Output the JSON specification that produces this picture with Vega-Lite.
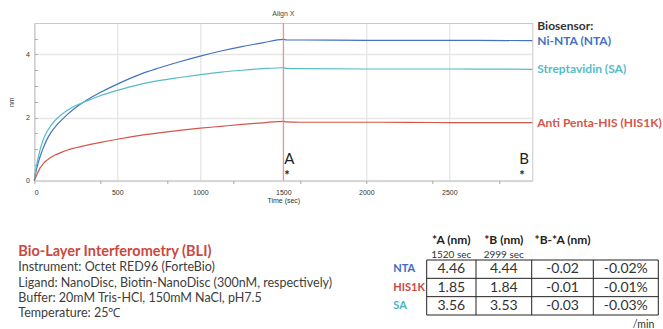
{
  "$schema": "https://vega.github.io/schema/vega-lite/v6.json",
  "width": 498,
  "height": 157.5,
  "autosize": "none",
  "padding": {"left": 34.3, "top": 23, "right": 130.7, "bottom": 148.5},
  "background": "white",
  "config": {
    "view": {"stroke": "#c8c8c8"},
    "axis": {"labelFont": "Liberation Sans", "titleFont": "Liberation Sans", "labelFontSize": 7, "titleFontSize": 7, "labelColor": "#333333", "titleColor": "#333333", "titleFontWeight": "normal"}
  },
  "datasets": {
    "curves": [
      {"series": "Ni-NTA (NTA)", "t": 0, "nm": 0},
      {"series": "Ni-NTA (NTA)", "t": 10, "nm": 0.28},
      {"series": "Ni-NTA (NTA)", "t": 20, "nm": 0.5},
      {"series": "Ni-NTA (NTA)", "t": 35, "nm": 0.76},
      {"series": "Ni-NTA (NTA)", "t": 50, "nm": 0.98},
      {"series": "Ni-NTA (NTA)", "t": 75, "nm": 1.29},
      {"series": "Ni-NTA (NTA)", "t": 100, "nm": 1.52},
      {"series": "Ni-NTA (NTA)", "t": 135, "nm": 1.76},
      {"series": "Ni-NTA (NTA)", "t": 170, "nm": 1.95},
      {"series": "Ni-NTA (NTA)", "t": 200, "nm": 2.1},
      {"series": "Ni-NTA (NTA)", "t": 250, "nm": 2.32},
      {"series": "Ni-NTA (NTA)", "t": 300, "nm": 2.5},
      {"series": "Ni-NTA (NTA)", "t": 400, "nm": 2.8},
      {"series": "Ni-NTA (NTA)", "t": 500, "nm": 3.06},
      {"series": "Ni-NTA (NTA)", "t": 637, "nm": 3.37},
      {"series": "Ni-NTA (NTA)", "t": 750, "nm": 3.57},
      {"series": "Ni-NTA (NTA)", "t": 875, "nm": 3.77},
      {"series": "Ni-NTA (NTA)", "t": 1000, "nm": 3.95},
      {"series": "Ni-NTA (NTA)", "t": 1125, "nm": 4.11},
      {"series": "Ni-NTA (NTA)", "t": 1250, "nm": 4.25},
      {"series": "Ni-NTA (NTA)", "t": 1375, "nm": 4.37},
      {"series": "Ni-NTA (NTA)", "t": 1500, "nm": 4.48},
      {"series": "Ni-NTA (NTA)", "t": 1520, "nm": 4.46},
      {"series": "Ni-NTA (NTA)", "t": 1600, "nm": 4.46},
      {"series": "Ni-NTA (NTA)", "t": 2000, "nm": 4.45},
      {"series": "Ni-NTA (NTA)", "t": 2500, "nm": 4.45},
      {"series": "Ni-NTA (NTA)", "t": 3000, "nm": 4.44},
      {"series": "Streptavidin (SA)", "t": 0, "nm": 0},
      {"series": "Streptavidin (SA)", "t": 10, "nm": 0.38},
      {"series": "Streptavidin (SA)", "t": 20, "nm": 0.64},
      {"series": "Streptavidin (SA)", "t": 35, "nm": 0.98},
      {"series": "Streptavidin (SA)", "t": 50, "nm": 1.24},
      {"series": "Streptavidin (SA)", "t": 75, "nm": 1.54},
      {"series": "Streptavidin (SA)", "t": 100, "nm": 1.74},
      {"series": "Streptavidin (SA)", "t": 135, "nm": 1.96},
      {"series": "Streptavidin (SA)", "t": 170, "nm": 2.12},
      {"series": "Streptavidin (SA)", "t": 200, "nm": 2.23},
      {"series": "Streptavidin (SA)", "t": 250, "nm": 2.38},
      {"series": "Streptavidin (SA)", "t": 300, "nm": 2.49},
      {"series": "Streptavidin (SA)", "t": 400, "nm": 2.7},
      {"series": "Streptavidin (SA)", "t": 500, "nm": 2.86},
      {"series": "Streptavidin (SA)", "t": 637, "nm": 3.05},
      {"series": "Streptavidin (SA)", "t": 750, "nm": 3.17},
      {"series": "Streptavidin (SA)", "t": 875, "nm": 3.27},
      {"series": "Streptavidin (SA)", "t": 1000, "nm": 3.36},
      {"series": "Streptavidin (SA)", "t": 1125, "nm": 3.44},
      {"series": "Streptavidin (SA)", "t": 1250, "nm": 3.5},
      {"series": "Streptavidin (SA)", "t": 1375, "nm": 3.55},
      {"series": "Streptavidin (SA)", "t": 1500, "nm": 3.58},
      {"series": "Streptavidin (SA)", "t": 1520, "nm": 3.56},
      {"series": "Streptavidin (SA)", "t": 1600, "nm": 3.55},
      {"series": "Streptavidin (SA)", "t": 2000, "nm": 3.54},
      {"series": "Streptavidin (SA)", "t": 2500, "nm": 3.54},
      {"series": "Streptavidin (SA)", "t": 3000, "nm": 3.53},
      {"series": "Anti Penta-HIS (HIS1K)", "t": 0, "nm": 0},
      {"series": "Anti Penta-HIS (HIS1K)", "t": 10, "nm": 0.12},
      {"series": "Anti Penta-HIS (HIS1K)", "t": 20, "nm": 0.24},
      {"series": "Anti Penta-HIS (HIS1K)", "t": 35, "nm": 0.4},
      {"series": "Anti Penta-HIS (HIS1K)", "t": 50, "nm": 0.51},
      {"series": "Anti Penta-HIS (HIS1K)", "t": 75, "nm": 0.64},
      {"series": "Anti Penta-HIS (HIS1K)", "t": 100, "nm": 0.74},
      {"series": "Anti Penta-HIS (HIS1K)", "t": 135, "nm": 0.83},
      {"series": "Anti Penta-HIS (HIS1K)", "t": 170, "nm": 0.91},
      {"series": "Anti Penta-HIS (HIS1K)", "t": 200, "nm": 0.97},
      {"series": "Anti Penta-HIS (HIS1K)", "t": 250, "nm": 1.04},
      {"series": "Anti Penta-HIS (HIS1K)", "t": 300, "nm": 1.1},
      {"series": "Anti Penta-HIS (HIS1K)", "t": 400, "nm": 1.21},
      {"series": "Anti Penta-HIS (HIS1K)", "t": 500, "nm": 1.31},
      {"series": "Anti Penta-HIS (HIS1K)", "t": 637, "nm": 1.43},
      {"series": "Anti Penta-HIS (HIS1K)", "t": 750, "nm": 1.51},
      {"series": "Anti Penta-HIS (HIS1K)", "t": 875, "nm": 1.59},
      {"series": "Anti Penta-HIS (HIS1K)", "t": 1000, "nm": 1.66},
      {"series": "Anti Penta-HIS (HIS1K)", "t": 1125, "nm": 1.72},
      {"series": "Anti Penta-HIS (HIS1K)", "t": 1250, "nm": 1.78},
      {"series": "Anti Penta-HIS (HIS1K)", "t": 1375, "nm": 1.83},
      {"series": "Anti Penta-HIS (HIS1K)", "t": 1500, "nm": 1.88},
      {"series": "Anti Penta-HIS (HIS1K)", "t": 1520, "nm": 1.86},
      {"series": "Anti Penta-HIS (HIS1K)", "t": 1600, "nm": 1.85},
      {"series": "Anti Penta-HIS (HIS1K)", "t": 2000, "nm": 1.85},
      {"series": "Anti Penta-HIS (HIS1K)", "t": 2500, "nm": 1.84},
      {"series": "Anti Penta-HIS (HIS1K)", "t": 3000, "nm": 1.84}
    ],
    "info": [
      {"line": 0, "text": "Bio-Layer Interferometry (BLI)"},
      {"line": 1, "text": "Instrument: Octet RED96 (ForteBio)"},
      {"line": 2, "text": "Ligand: NanoDisc, Biotin-NanoDisc (300nM, respectively)"},
      {"line": 3, "text": "Buffer: 20mM Tris-HCl, 150mM NaCl, pH7.5"},
      {"line": 4, "text": "Temperature: 25℃"}
    ],
    "tcols": [{"c": 0}, {"c": 1}, {"c": 2}, {"c": 3}, {"c": 4}],
    "trows": [{"r": 0}, {"r": 1}, {"r": 2}, {"r": 3}],
    "table": [
      {"kind": "head", "c": 0, "r": -1.57, "text": "*A (nm)"},
      {"kind": "head", "c": 1, "r": -1.57, "text": "*B (nm)"},
      {"kind": "head", "c": 2, "r": -1.57, "text": "*B-*A (nm)"},
      {"kind": "sub", "c": 0, "r": -0.8, "text": "1520 sec"},
      {"kind": "sub", "c": 1, "r": -0.8, "text": "2999 sec"},
      {"kind": "row", "c": -1, "r": 0, "text": "NTA"},
      {"kind": "row", "c": -1, "r": 1, "text": "HIS1K"},
      {"kind": "row", "c": -1, "r": 2, "text": "SA"},
      {"kind": "val", "c": 0, "r": 0, "text": "4.46"},
      {"kind": "val", "c": 1, "r": 0, "text": "4.44"},
      {"kind": "val", "c": 2, "r": 0, "text": "-0.02"},
      {"kind": "val", "c": 3, "r": 0, "text": "-0.02%"},
      {"kind": "val", "c": 0, "r": 1, "text": "1.85"},
      {"kind": "val", "c": 1, "r": 1, "text": "1.84"},
      {"kind": "val", "c": 2, "r": 1, "text": "-0.01"},
      {"kind": "val", "c": 3, "r": 1, "text": "-0.01%"},
      {"kind": "val", "c": 0, "r": 2, "text": "3.56"},
      {"kind": "val", "c": 1, "r": 2, "text": "3.53"},
      {"kind": "val", "c": 2, "r": 2, "text": "-0.03"},
      {"kind": "val", "c": 3, "r": 2, "text": "-0.03%"},
      {"kind": "note", "c": 3.28, "r": 3.05, "text": "/min"}
    ]
  },
  "resolve": {"scale": {"x": "independent", "y": "independent", "color": "independent"}},
  "layer": [
    {
      "data": {"name": "curves"},
      "layer": [
        {
          "mark": {"type": "line", "strokeWidth": 1.2, "interpolate": "monotone"},
          "encoding": {
            "x": {"field": "t", "type": "quantitative", "scale": {"domain": [0, 3000], "nice": false, "zero": false},
              "axis": {"values": [0, 500, 1000, 1500, 2000, 2500], "format": "d", "title": "Time (sec)", "grid": true, "gridColor": "#dedede", "ticks": false, "tickSize": 0, "labelPadding": 8, "titlePadding": 1, "domainColor": "#c8c8c8"}},
            "y": {"field": "nm", "type": "quantitative", "scale": {"domain": [0, 5], "nice": false},
              "axis": {"values": [0, 2, 4], "title": "nm", "grid": true, "gridColor": "#e6e6e6", "gridWidth": 1.5, "ticks": false, "tickSize": 0, "labelPadding": 5, "titlePadding": 11, "domainColor": "#c8c8c8"}},
            "color": {"field": "series", "type": "nominal", "scale": {"domain": ["Ni-NTA (NTA)", "Streptavidin (SA)", "Anti Penta-HIS (HIS1K)"], "range": ["#4471c3", "#55bcc6", "#d4564a"]}, "legend": null}
          }
        },
        {
          "transform": [{"filter": "datum.t == 3000"}],
          "mark": {"type": "text", "align": "left", "baseline": "middle", "dx": 5, "font": "Lato", "fontSize": 12, "fontWeight": "bold"},
          "encoding": {
            "x": {"field": "t", "type": "quantitative"},
            "y": {"field": "nm", "type": "quantitative"},
            "text": {"field": "series"},
            "color": {"field": "series", "type": "nominal", "legend": null}
          }
        },
        {
          "transform": [{"filter": "datum.t == 3000 && datum.series == 'Ni-NTA (NTA)'"}],
          "mark": {"type": "text", "align": "left", "baseline": "middle", "dx": 5, "dy": -14.5, "font": "Lato", "fontSize": 12, "fontWeight": "bold", "color": "#333333"},
          "encoding": {
            "x": {"field": "t", "type": "quantitative"},
            "y": {"field": "nm", "type": "quantitative"},
            "text": {"value": "Biosensor:"}
          }
        },
        {
          "data": {"values": [{"m": "A", "t": 1500}, {"m": "B", "t": 2915}]},
          "layer": [
            {
              "mark": {"type": "text", "align": "left", "baseline": "middle", "dx": 1, "font": "Lato", "fontSize": 15, "color": "#222222"},
              "encoding": {
                "x": {"field": "t", "type": "quantitative"},
                "y": {"datum": 0.68, "type": "quantitative"},
                "text": {"field": "m"}
              }
            },
            {
              "mark": {"type": "text", "align": "left", "baseline": "middle", "dx": 1, "font": "Lato", "fontSize": 13, "fontWeight": "bold", "color": "#222222"},
              "encoding": {
                "x": {"field": "t", "type": "quantitative"},
                "y": {"datum": 0.13, "type": "quantitative"},
                "text": {"value": "*"}
              }
            }
          ]
        }
      ]
    },
    {
      "data": {"values": [{"t": 1500, "label": "Align X"}]},
      "layer": [
        {
          "mark": {"type": "rule", "color": "#e8847e", "strokeWidth": 1},
          "encoding": {
            "x": {"field": "t", "type": "quantitative", "scale": {"domain": [0, 3000], "nice": false, "zero": false},
              "axis": {"orient": "bottom", "values": [0, 100, 200, 300, 400, 500, 600, 700, 800, 900, 1000, 1100, 1200, 1300, 1400, 1500, 1600, 1700, 1800, 1900, 2000, 2100, 2200, 2300, 2400, 2500, 2600, 2700, 2800, 2900, 3000], "labels": false, "domain": false, "grid": false, "ticks": true, "tickSize": 3, "tickColor": "#aaaaaa", "title": null}}
          }
        },
        {
          "mark": {"type": "text", "baseline": "middle", "dy": -9, "font": "Liberation Sans", "fontSize": 7, "color": "#444444"},
          "encoding": {
            "x": {"field": "t", "type": "quantitative"},
            "y": {"datum": 5, "type": "quantitative", "scale": {"domain": [0, 5], "nice": false},
              "axis": {"orient": "left", "values": [0.5, 1, 1.5, 2, 2.5, 3, 3.5, 4, 4.5], "labels": false, "domain": false, "grid": false, "ticks": true, "tickSize": -3, "tickColor": "#aaaaaa", "title": null}},
            "text": {"field": "label"}
          }
        }
      ]
    },
    {
      "data": {"name": "info"},
      "encoding": {
        "x": {"datum": 0, "type": "quantitative", "scale": {"domain": [0, 1], "range": [-16, 0], "nice": false, "zero": false}, "axis": null},
        "y": {"field": "line", "type": "quantitative", "scale": {"domain": [0, 4], "range": [232.7, 294.3], "nice": false, "zero": false}, "axis": null},
        "text": {"field": "text"}
      },
      "layer": [
        {
          "transform": [{"filter": "datum.line == 0"}],
          "mark": {"type": "text", "align": "left", "baseline": "alphabetic", "font": "Lato", "fontSize": 14.5, "fontWeight": "bold", "color": "#c9483f"}
        },
        {
          "transform": [{"filter": "datum.line > 0"}],
          "mark": {"type": "text", "align": "left", "baseline": "alphabetic", "font": "Lato", "fontSize": 12.5, "color": "#3d3d3d"}
        }
      ]
    },
    {
      "layer": [
        {
          "data": {"name": "tcols"},
          "mark": {"type": "rule", "color": "#222222", "strokeWidth": 1},
          "encoding": {
            "x": {"field": "c", "type": "quantitative", "scale": {"domain": [0, 1, 2, 3, 4], "range": [392.4, 441.7, 497.4, 559, 624], "nice": false, "zero": false}, "axis": null},
            "y": {"datum": 0, "type": "quantitative", "scale": {"domain": [0, 3], "range": [237, 292], "nice": false, "zero": false}, "axis": null},
            "y2": {"datum": 3}
          }
        },
        {
          "data": {"name": "trows"},
          "mark": {"type": "rule", "color": "#222222", "strokeWidth": 1},
          "encoding": {
            "x": {"datum": 0, "type": "quantitative"},
            "x2": {"datum": 4},
            "y": {"field": "r", "type": "quantitative"}
          }
        }
      ]
    },
    {
      "data": {"name": "table"},
      "encoding": {
        "x": {"field": "c", "type": "quantitative", "scale": {"domain": [-1, 0, 1, 2, 3], "range": [359, 417, 469.5, 528.2, 591.5], "nice": false, "zero": false}, "axis": null},
        "y": {"field": "r", "type": "quantitative", "scale": {"domain": [0, 2], "range": [246.2, 282.8], "nice": false, "zero": false}, "axis": null},
        "text": {"field": "text"}
      },
      "layer": [
        {
          "transform": [{"filter": "datum.kind == 'head'"}],
          "mark": {"type": "text", "align": "center", "baseline": "middle", "font": "Lato", "fontSize": 12, "fontWeight": "bold", "color": "#222222"}
        },
        {
          "transform": [{"filter": "datum.kind == 'sub'"}],
          "mark": {"type": "text", "align": "center", "baseline": "middle", "font": "Lato", "fontSize": 10, "color": "#333333"}
        },
        {
          "transform": [{"filter": "datum.kind == 'val'"}],
          "mark": {"type": "text", "align": "center", "baseline": "middle", "font": "Lato", "fontSize": 14, "color": "#333333"}
        },
        {
          "transform": [{"filter": "datum.kind == 'note'"}],
          "mark": {"type": "text", "align": "center", "baseline": "middle", "font": "Lato", "fontSize": 10.5, "color": "#333333"}
        },
        {
          "transform": [{"filter": "datum.kind == 'row'"}],
          "mark": {"type": "text", "align": "left", "baseline": "middle", "font": "Lato", "fontSize": 11, "fontWeight": "bold"},
          "encoding": {
            "color": {"field": "text", "type": "nominal", "scale": {"domain": ["NTA", "HIS1K", "SA"], "range": ["#3b6bc0", "#c9483f", "#4ab3be"]}, "legend": null}
          }
        }
      ]
    }
  ]
}
